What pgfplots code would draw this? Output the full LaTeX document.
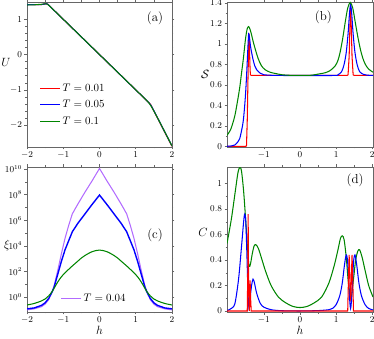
\documentclass[border=0pt]{standalone}
\usepackage{pgfplots}
\pgfplotsset{compat=1.18}
\definecolor{mred}{rgb}{1,0,0}
\definecolor{mblue}{rgb}{0,0,1}
\definecolor{mgreen}{rgb}{0,0.52,0}
\definecolor{mpurple}{rgb}{0.70,0.42,1}
\pgfplotsset{
  panel/.style={
    scale only axis, width=145bp, height=145bp, anchor=south west,
    axis line style={draw=black!60, line width=0.7bp},
    tick style={draw=black!60, line width=0.5bp},
    tick align=outside, major tick length=2.5bp, minor tick length=1.5bp,
    tick label style={font=\fontsize{8.8}{10}\selectfont},
    xticklabel style={yshift=1bp},
    yticklabel style={xshift=1bp},
    label style={font=\fontsize{12}{14}\selectfont},
    every axis plot/.append style={line width=1.05bp},
    clip=true,
  },
}
\begin{document}
\begin{tikzpicture}
% ---------------- (a)
\begin{axis}[panel, at={(27bp,192bp)},
  xmin=-2, xmax=2, ymin=-2.62, ymax=1.49,
  xtick={-2,-1,0,1,2}, ytick={-2,-1,0,1},
  minor x tick num=1, minor y tick num=4,
  ylabel={$U$},
  y label style={at={(rel axis cs:-0.145,0.58)}, rotate=-90, anchor=center},
  legend style={at={(rel axis cs:0.065,0.465)}, anchor=north west, draw=none, fill=none,
    font=\fontsize{11}{13}\selectfont, row sep=3.5bp},
  legend image code/.code={\draw[#1] (0bp,0bp) -- (20bp,0bp);},
  legend cell align=left]
\addplot[mred] coordinates {(-2,1.415) (-1.6,1.418) (-1.46,1.44) (-1.43,1.43) (-1.40,1.40) (1.38,-1.38) (1.42,-1.43) (1.46,-1.52) (2,-2.60)};
\addlegendentry{$T=0.01$}
\addplot[mblue] coordinates {(-2,1.412) (-1.6,1.418) (-1.5,1.435) (-1.45,1.44) (-1.41,1.41) (-1.36,1.36) (1.34,-1.34) (1.40,-1.41) (1.46,-1.51) (1.55,-1.69) (2,-2.59)};
\addlegendentry{$T=0.05$}
\addplot[mgreen] coordinates {(-2,1.405) (-1.8,1.41) (-1.6,1.425) (-1.5,1.44) (-1.44,1.43) (-1.38,1.38) (-1.3,1.30) (1.30,-1.30) (1.37,-1.38) (1.43,-1.47) (1.5,-1.60) (1.6,-1.79) (2,-2.59)};
\addlegendentry{$T=0.1$}
\node[font=\fontsize{13}{15}\selectfont] at (rel axis cs:0.883,0.89) {(a)};
\end{axis}
% ---------------- (b)
\begin{axis}[panel, at={(227bp,192bp)}, width=146bp,
  xmin=-2.02, xmax=2.02, ymin=-0.005, ymax=1.41,
  xtick={-1,0,1,2}, ytick={0,0.2,0.4,0.6,0.8,1,1.2,1.4},
  minor x tick num=1, minor y tick num=1,
  ylabel={$\mathcal{S}$},
  y label style={at={(rel axis cs:-0.15,0.5)}, rotate=-90, anchor=center}]
\addplot[mred] coordinates {(-2.02,0) (-1.5,0) (-1.48,0.01) (-1.46,0.25) (-1.44,0.65) (-1.42,1.0) (-1.41,1.10) (-1.40,1.02) (-1.39,0.85) (-1.38,0.74) (-1.37,0.70) (-1.35,0.693) (1.30,0.693) (1.33,0.70) (1.36,0.88) (1.38,1.15) (1.40,1.37) (1.42,1.15) (1.44,0.88) (1.47,0.70) (1.50,0.693) (2.02,0.693)};
\addplot[mblue, smooth] coordinates {(-2.02,0.002) (-1.9,0.005) (-1.8,0.015) (-1.72,0.045) (-1.67,0.075) (-1.62,0.15) (-1.57,0.25) (-1.53,0.40) (-1.50,0.55) (-1.47,0.75) (-1.44,0.98) (-1.42,1.10) (-1.40,1.07) (-1.37,0.98) (-1.34,0.92) (-1.30,0.85) (-1.25,0.785) (-1.2,0.75) (-1.1,0.715) (-1.0,0.70) (-0.8,0.695) (-0.5,0.693) (0.9,0.693) (1.05,0.70) (1.15,0.73) (1.22,0.80) (1.28,0.92) (1.33,1.10) (1.37,1.30) (1.40,1.385) (1.43,1.30) (1.47,1.10) (1.52,0.92) (1.58,0.80) (1.65,0.73) (1.75,0.705) (1.85,0.696) (2.02,0.694)};
\addplot[mgreen, smooth] coordinates {(-2.02,0.11) (-1.92,0.164) (-1.81,0.29) (-1.74,0.42) (-1.67,0.57) (-1.62,0.71) (-1.57,0.85) (-1.53,0.98) (-1.50,1.07) (-1.46,1.15) (-1.42,1.17) (-1.38,1.14) (-1.34,1.09) (-1.30,1.03) (-1.23,0.94) (-1.16,0.86) (-1.07,0.79) (-0.97,0.75) (-0.83,0.725) (-0.69,0.713) (-0.5,0.70) (-0.3,0.695) (0,0.693) (0.3,0.695) (0.56,0.71) (0.70,0.72) (0.83,0.74) (0.97,0.785) (1.05,0.84) (1.11,0.92) (1.18,1.05) (1.25,1.21) (1.32,1.35) (1.39,1.405) (1.46,1.35) (1.53,1.21) (1.60,1.07) (1.67,0.95) (1.74,0.86) (1.81,0.80) (1.9,0.755) (2.02,0.725)};
\node[font=\fontsize{13}{15}\selectfont] at (rel axis cs:0.66,0.897) {(b)};
\end{axis}
% ---------------- (c)
\begin{axis}[panel, at={(27bp,27bp)},
  xmin=-2, xmax=2, ymode=log, ymin=0.068, ymax=1.45e10,
  xtick={-2,-1,0,1,2}, ytick={1,1e2,1e4,1e6,1e8,1e10},
  minor ytick={1e1,1e3,1e5,1e7,1e9},
  minor x tick num=1,
  xlabel={$h$}, ylabel={$\xi$},
  x label style={at={(rel axis cs:0.5,-0.124)}, anchor=center},
  y label style={at={(rel axis cs:-0.138,0.46)}, rotate=-90, anchor=center},
  legend style={at={(rel axis cs:0.21,0.155)}, anchor=north west, draw=none, fill=none,
    font=\fontsize{11}{13}\selectfont},
  legend image code/.code={\draw[#1] (0bp,0bp) -- (20bp,0bp);},
  legend cell align=left]
\addplot[mpurple] coordinates {(-2,0.1) (-1.8,0.12) (-1.6,0.178) (-1.5,0.282) (-1.4,0.631) (-1.3,2.82) (-1.25,7.94) (-1.15,126) (-1.05,2512) (-0.95,3.98e4) (-0.85,3.98e5) (-0.75,3.16e6) (-0.6,1.78e7) (-0.4,1.58e8) (-0.2,1.26e9) (0,1.12e10) (0.2,1.26e9) (0.4,1.58e8) (0.6,1.78e7) (0.75,3.16e6) (0.85,3.98e5) (0.95,3.98e4) (1.05,2512) (1.15,126) (1.25,7.94) (1.3,2.82) (1.4,0.631) (1.5,0.282) (1.6,0.178) (1.8,0.12) (2,0.1)};
\addlegendentry{$T=0.04$}
\addplot[mblue, line width=1.4bp] coordinates {(-2,0.12) (-1.8,0.141) (-1.6,0.224) (-1.5,0.355) (-1.4,0.794) (-1.3,2.82) (-1.25,6.31) (-1.15,63.1) (-1.05,631) (-0.95,5012) (-0.85,2.51e4) (-0.75,1.26e5) (-0.6,5.62e5) (-0.4,3.16e6) (-0.2,1.78e7) (0,9.33e7) (0.2,1.78e7) (0.4,3.16e6) (0.6,5.62e5) (0.75,1.26e5) (0.85,2.51e4) (0.95,5012) (1.05,631) (1.15,63.1) (1.25,6.31) (1.3,2.82) (1.4,0.794) (1.5,0.355) (1.6,0.224) (1.8,0.141) (2,0.12)};
\addplot[mgreen, smooth] coordinates {(-2,0.24) (-1.8,0.316) (-1.6,0.5) (-1.5,0.708) (-1.4,1.26) (-1.3,2.82) (-1.2,8.91) (-1.1,25.1) (-1.0,56.2) (-0.8,200) (-0.6,631) (-0.5,1122) (-0.4,1778) (-0.2,3548) (0,4677) (0.2,3548) (0.4,1778) (0.5,1122) (0.6,631) (0.8,200) (1.0,56.2) (1.1,25.1) (1.2,8.91) (1.3,2.82) (1.4,1.26) (1.5,0.708) (1.6,0.5) (1.8,0.316) (2,0.24)};
\node[font=\fontsize{13}{15}\selectfont] at (rel axis cs:0.883,0.53) {(c)};
\end{axis}
% ---------------- (d)
\begin{axis}[panel, at={(227bp,27bp)}, width=146bp,
  xmin=-2.02, xmax=2.02, ymin=-0.008, ymax=1.13,
  xtick={-1,0,1,2}, ytick={0,0.2,0.4,0.6,0.8,1},
  minor x tick num=1, minor y tick num=1,
  xlabel={$h$}, ylabel={$C$},
  x label style={at={(rel axis cs:0.5,-0.124)}, anchor=center},
  y label style={at={(rel axis cs:-0.164,0.55)}, rotate=-90, anchor=center}]
\addplot[mgreen, smooth] coordinates {(-2.02,0.53) (-1.9,0.72) (-1.8,0.92) (-1.72,1.08) (-1.67,1.125) (-1.62,1.10) (-1.56,0.94) (-1.50,0.70) (-1.45,0.48) (-1.41,0.35) (-1.37,0.37) (-1.32,0.45) (-1.27,0.51) (-1.22,0.52) (-1.15,0.49) (-1.05,0.40) (-0.95,0.31) (-0.8,0.20) (-0.6,0.11) (-0.4,0.065) (-0.2,0.036) (0,0.027) (0.2,0.036) (0.4,0.065) (0.6,0.11) (0.8,0.22) (0.95,0.36) (1.05,0.48) (1.12,0.57) (1.17,0.59) (1.22,0.56) (1.28,0.42) (1.34,0.22) (1.41,0.10) (1.48,0.25) (1.54,0.40) (1.6,0.47) (1.65,0.48) (1.72,0.42) (1.8,0.32) (1.9,0.2) (2.02,0.11)};
\addplot[mblue, smooth] coordinates {(-2.02,0.003) (-1.9,0.02) (-1.8,0.06) (-1.7,0.25) (-1.62,0.50) (-1.56,0.70) (-1.53,0.76) (-1.50,0.70) (-1.47,0.45) (-1.44,0.15) (-1.41,0.02) (-1.38,0.10) (-1.34,0.20) (-1.30,0.25) (-1.26,0.22) (-1.2,0.14) (-1.1,0.06) (-1.0,0.03) (-0.8,0.01) (-0.5,0.002) (0,0) (0.5,0.003) (0.8,0.01) (0.9,0.02) (1.0,0.05) (1.1,0.12) (1.17,0.22) (1.23,0.36) (1.28,0.44) (1.32,0.38) (1.36,0.15) (1.40,0.02) (1.44,0.15) (1.48,0.38) (1.52,0.44) (1.57,0.36) (1.63,0.22) (1.7,0.12) (1.8,0.05) (1.9,0.02) (2.02,0.008)};
\addplot[mred] coordinates {(-2.02,0) (-1.46,0) (-1.445,0.3) (-1.435,0.76) (-1.425,0.3) (-1.415,0.05) (-1.40,0.0) (-1.39,0.15) (-1.38,0.24) (-1.37,0.12) (-1.35,0) (1.32,0) (1.345,0.3) (1.36,0.44) (1.375,0.3) (1.39,0.12) (1.40,0.1) (1.41,0.12) (1.425,0.3) (1.44,0.44) (1.455,0.3) (1.48,0) (2.02,0)};
\node[font=\fontsize{13}{15}\selectfont] at (rel axis cs:0.877,0.91) {(d)};
\end{axis}
\pgfresetboundingbox
\path[use as bounding box] (0bp,0bp) rectangle (374bp,339bp);
\end{tikzpicture}
\end{document}
